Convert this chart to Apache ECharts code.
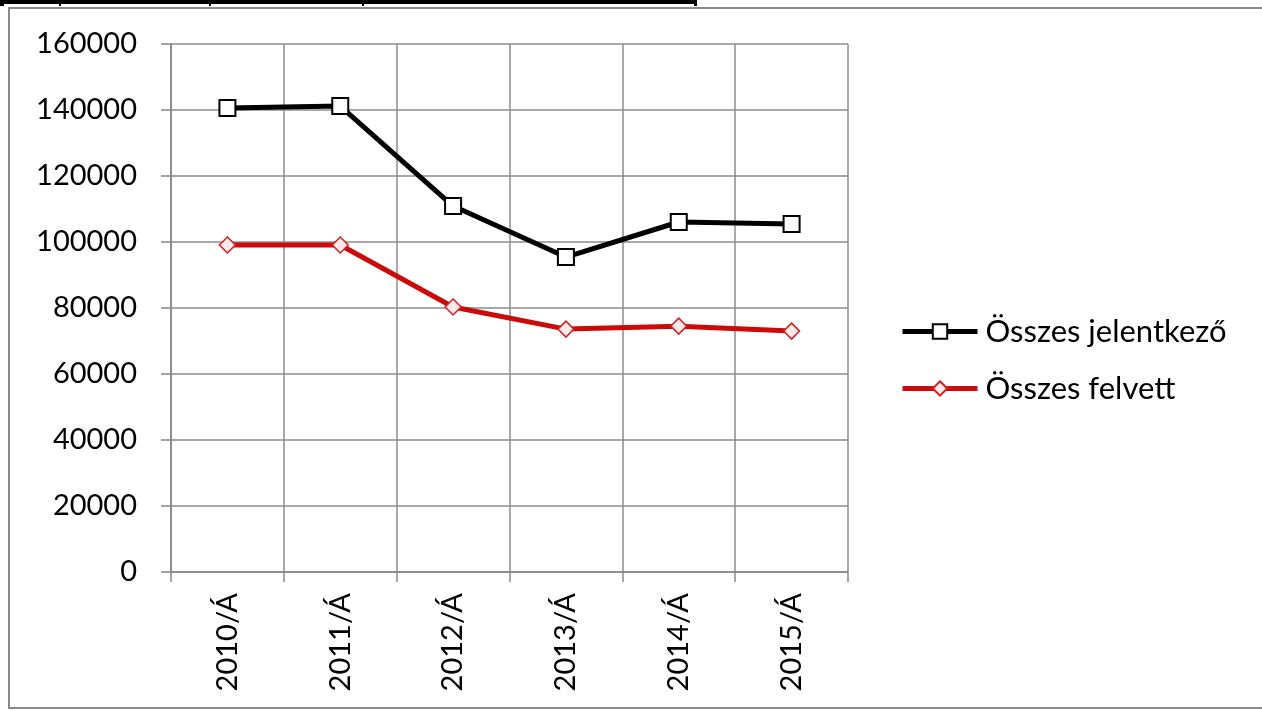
<!DOCTYPE html>
<html>
<head>
<meta charset="utf-8">
<script src="https://cdn.jsdelivr.net/npm/echarts@6/dist/echarts.min.js"></script>
<style>
html,body{margin:0;padding:0;background:#fff;}
#c{width:1262px;height:711px;}
</style>
</head>
<body>
<div id="c"></div>
<script>
var categories = ['2010/Á', '2011/Á', '2012/Á', '2013/Á', '2014/Á', '2015/Á'];
var jelentkezo = [140600, 141200, 110900, 95450, 106060, 105450];
var felvett = [99100, 99100, 80300, 73600, 74500, 73000];
var seriesNames = ['Összes jelentkező', 'Összes felvett'];
var yTicks = { min: 0, max: 160000, interval: 20000 };

var chart = echarts.init(document.getElementById('c'), null, { renderer: 'canvas' });
var FONT = 'Lato';
var option = {
  backgroundColor: '#fff',
  animation: false,
  graphic: [
    { type: 'rect', shape: { x: 9, y: 8, width: 1300, height: 700 }, style: { fill: 'none', stroke: '#8a8a8a', lineWidth: 2 } },
    { type: 'rect', shape: { x: 0, y: 0, width: 697, height: 4 }, style: { fill: '#000' } },
    { type: 'rect', shape: { x: 0, y: 0, width: 4, height: 6 }, style: { fill: '#000' } },
    { type: 'rect', shape: { x: 59, y: 0, width: 2, height: 6 }, style: { fill: '#000' } },
    { type: 'rect', shape: { x: 209, y: 0, width: 2, height: 6 }, style: { fill: '#000' } },
    { type: 'rect', shape: { x: 362, y: 0, width: 2, height: 6 }, style: { fill: '#000' } },
    { type: 'rect', shape: { x: 694, y: 0, width: 3, height: 6 }, style: { fill: '#000' } }
  ],
  grid: { left: 171, right: 414, top: 44, bottom: 139, containLabel: false },
  legend: {
    orient: 'vertical',
    left: 900,
    top: 316,
    padding: 0,
    itemWidth: 75,
    itemHeight: 18,
    itemGap: 26,
    textStyle: { fontFamily: FONT, fontSize: 31, color: '#000', lineHeight: 20, padding: [0, 0, 0, 3] },
    data: [
      { name: seriesNames[0], lineStyle: { width: 5, color: '#000' } },
      { name: seriesNames[1], lineStyle: { width: 5, color: '#cc0a0a' } }
    ]
  },
  xAxis: {
    type: 'category',
    data: categories,
    boundaryGap: true,
    axisLine: { lineStyle: { color: '#868686', width: 1.5 } },
    axisTick: { show: true, length: 10, lineStyle: { color: '#868686', width: 1.5 } },
    splitLine: { show: true, lineStyle: { color: '#8c8c8c', width: 1.5 } },
    axisLabel: { rotate: 90, margin: 21, fontFamily: FONT, fontSize: 29, color: '#000' }
  },
  yAxis: {
    type: 'value',
    min: yTicks.min,
    max: yTicks.max,
    interval: yTicks.interval,
    axisLine: { show: true, lineStyle: { color: '#868686', width: 1.5 } },
    axisTick: { show: true, length: 10, lineStyle: { color: '#868686', width: 1.5 } },
    splitLine: { show: true, lineStyle: { color: '#8c8c8c', width: 1.5 } },
    axisLabel: { margin: 34, fontFamily: FONT, fontSize: 29, color: '#000', formatter: function (v) { return String(v); } }
  },
  series: [
    {
      name: seriesNames[0],
      type: 'line',
      data: jelentkezo,
      symbol: 'rect',
      symbolSize: 16,
      lineStyle: { color: '#000', width: 5 },
      itemStyle: { color: '#fff', borderColor: '#000', borderWidth: 2 },
      z: 3
    },
    {
      name: seriesNames[1],
      type: 'line',
      data: felvett,
      symbol: 'diamond',
      symbolSize: 16,
      lineStyle: { color: '#cc0a0a', width: 5 },
      itemStyle: { color: '#fde8ea', borderColor: '#d02020', borderWidth: 1.5 },
      z: 2
    }
  ]
};
chart.setOption(option);
</script>
</body>
</html>
